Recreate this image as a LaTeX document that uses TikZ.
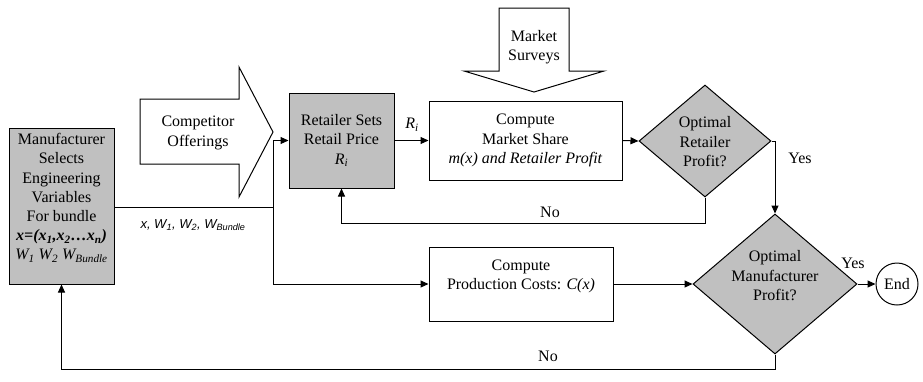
\documentclass[tikz,border=0pt]{standalone}
\usepackage{fontspec}
\setmainfont{Liberation Serif}
\setsansfont{Liberation Sans}
\usetikzlibrary{arrows.meta,shapes.geometric}
\definecolor{boxgray}{RGB}{192,192,192}
\tikzset{
  base/.style={font=\fontsize{16}{19.5}\selectfont, align=center, inner sep=0pt},
  graybox/.style={base, rectangle, draw, line width=1pt, fill=boxgray},
  whitebox/.style={base, rectangle, draw, line width=1pt, fill=white},
  dia/.style={diamond, draw, line width=1pt, fill=boxgray, inner sep=0pt, aspect=1},
  txt/.style={base},
  lbl/.style={font=\fontsize{16}{19.5}\selectfont, inner sep=0pt},
  bigarrow/.style={draw, line width=1pt, fill=white, line join=miter},
  conn/.style={line width=1pt, -{Triangle[length=8pt,width=7pt]}},
}
\begin{document}
\begin{tikzpicture}[x=1pt,y=-1pt]
\useasboundingbox (0,0) rectangle (923,381);

% Manufacturer box
\node[graybox, minimum width=105pt, minimum height=156pt] (manu) at (61.5,206) {};
\node[txt, font=\fontsize{16}{19.2}\selectfont] (manutxt) at (61.5,198)
  {Manufacturer\\Selects\\Engineering\\Variables\\For bundle\\
   \textbf{\textit{x=(x\textsubscript{1},x\textsubscript{2}\ldots x\textsubscript{n})}}\\
   \textit{W\textsubscript{1} W\textsubscript{2} W\textsubscript{Bundle}}};

% Competitor offerings big arrow
\draw[bigarrow] (140,99) -- (239,99) -- (239,67) -- (273,132) -- (239,197)
  -- (239,164) -- (140,164) -- cycle;
\node[txt] (comptxt) at (198,133) {Competitor\\Offerings};

% Market surveys big arrow
\draw[bigarrow] (499,8) -- (569,8) -- (569,71) -- (604,71) -- (534,92)
  -- (464,71) -- (499,71) -- cycle;
\node[txt] (survtxt) at (534,47) {Market\\Surveys};

% Retailer box
\node[graybox, minimum width=105pt, minimum height=95pt] (ret) at (341.5,140.5)
  {Retailer Sets\\Retail Price\\\textit{R\textsubscript{i}}};

% Market share box
\node[whitebox, minimum width=193pt, minimum height=79pt] (msh) at (525.5,140.5)
  {Compute\\Market Share\\\textit{m(x) and Retailer Profit}};

% Optimal retailer profit diamond
\node[dia, minimum width=132pt, minimum height=112pt] (dret) at (705,141) {};
\node[txt] (drettxt) at (705,142) {Optimal\\Retailer\\Profit?};

% Production costs box
\node[whitebox, minimum width=184pt, minimum height=74pt] (prod) at (521,284) {};
\node[txt] (prodtxt) at (521,276.5) {Compute\\Production Costs: \textit{C(x)}};

% Optimal manufacturer profit diamond
\node[dia, minimum width=164pt, minimum height=140pt] (dman) at (775,284) {};
\node[txt] (dmantxt) at (775,276) {Optimal\\Manufacturer\\Profit?};

% End circle
\node[circle, draw, line width=1pt, minimum size=42pt, inner sep=0pt,
      font=\fontsize{16}{19.5}\selectfont] (end) at (897,284) {End};

% Connectors
\coordinate (j1) at (273,207);
\draw[line width=1pt] (manu.east |- j1) -- (j1);
\draw[conn] (j1) |- (ret.west);
\draw[conn] (j1) |- (prod.west);
\node[inner sep=0pt, font=\sffamily\itshape\fontsize{13}{15}\selectfont] (xlbl) at (193,225)
  {x, W\textsubscript{1}, W\textsubscript{2}, W\textsubscript{Bundle}};

\draw[conn] (ret.east) -- (msh.west);
\node[lbl] (rilbl) at (412,125) {\textit{R\textsubscript{i}}};

\draw[conn] (msh.east) -- (dret.west);

\coordinate (n1) at (705,223);
\draw[conn] (dret.south) -- (n1) -| (ret.south);
\node[lbl] (no1) at (550,212) {No};

\draw[conn] (dret.east) -| (dman.north);
\node[lbl] (yes1) at (800,158) {Yes};

\draw[conn] (prod.east) -- (dman.west);

\draw[conn] (dman.east) -- (end.west);
\node[lbl] (yes2) at (853,263) {Yes};

\coordinate (n2) at (775,369);
\draw[conn] (dman.south) -- (n2) -| (manu.south);
\node[lbl] (no2) at (548,356) {No};
\end{tikzpicture}
\end{document}
